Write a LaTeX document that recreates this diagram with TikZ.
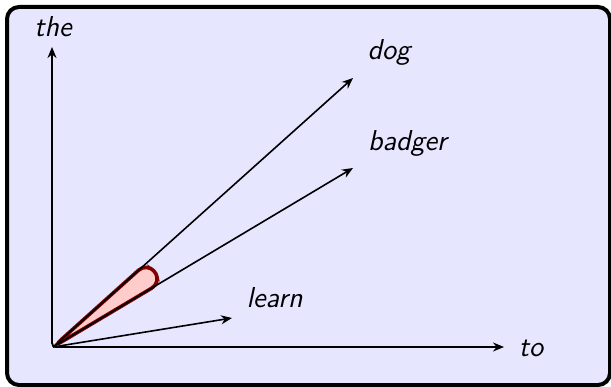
\documentclass[tikz,border=0pt]{standalone}
\usepackage{xcolor}
\usepackage{tikz}
\usetikzlibrary{arrows.meta}
\definecolor{slideLavender}{HTML}{E6E6FE}
\definecolor{wedgePink}{HTML}{FFCCCC}
\definecolor{wedgeRed}{HTML}{800000}
\tikzset{
  framebox/.style={draw=black, fill=slideLavender, line width=2pt, rounded corners=6pt},
  axisline/.style={{Stealth[length=5.5pt,width=4.5pt]}-{Stealth[length=5.5pt,width=4.5pt]}, line width=0.9pt, rounded corners=2pt},
  vecline/.style={-{Stealth[length=5.5pt,width=4.5pt]}, line width=0.8pt},
  wordlabel/.style={font=\fontsize{14.4}{17}\selectfont\sffamily\itshape, inner sep=0pt},
  anglewedge/.style={draw=wedgeRed, fill=wedgePink, line width=1.8pt, rounded corners=5.5pt},
}
\begin{document}
\begin{tikzpicture}[x=0.5pt,y=0.5pt]
      \useasboundingbox (0,0) rectangle (611,386);
      \draw[framebox] (7,1) rectangle (610,379);
      % vectors
      \coordinate (O) at (53,39);
      \coordinate (theTip) at (52,339);
      \coordinate (toTip) at (504,39);
      \coordinate (dogTip) at (353,308);
      \coordinate (badgerTip) at (353,218);
      \coordinate (learnTip) at (232,68);
      \draw[anglewedge] (O) -- ++(41.9:126) arc[start angle=41.9, end angle=30.8, radius=126] -- cycle;
      \draw[axisline] (theTip) |- (toTip);
      \draw[vecline] (O) -- (dogTip);
      \draw[vecline] (O) -- (badgerTip);
      \draw[vecline] (O) -- (learnTip);
      % labels
      \node[wordlabel] (the) at (53,359.5) {the};
      \node[wordlabel] (to) at (531,37.5) {to};
      \node[wordlabel] (dog) at (389,333.5) {dog};
      \node[wordlabel] (badger) at (407.5,242.5) {badger};
      \node[wordlabel] (learn) at (274.5,88.5) {learn};
    \end{tikzpicture}
\end{document}
